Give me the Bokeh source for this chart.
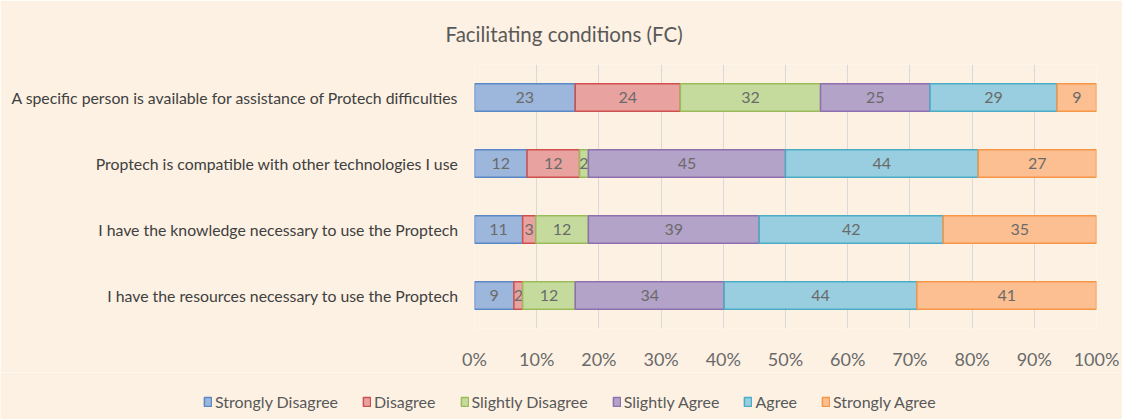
from bokeh.plotting import figure
from bokeh.models import ColumnDataSource, Legend, LegendItem, FixedTicker, Title
from bokeh.embed import file_html
from bokeh.resources import INLINE
from bokeh.core.properties import value

title = "Facilitating conditions (FC)"
statements = [
    "A specific person is available for assistance of Protech difficulties",
    "Proptech is compatible with other technologies I use",
    "I have the knowledge necessary to use the Proptech",
    "I have the resources necessary to use the Proptech",
]
levels = ["Strongly Disagree", "Disagree", "Slightly Disagree", "Slightly Agree", "Agree", "Strongly Agree"]
strongly_disagree = [23, 12, 11, 9]
disagree = [24, 12, 3, 2]
slightly_disagree = [32, 2, 12, 12]
slightly_agree = [25, 45, 39, 34]
agree = [29, 44, 42, 44]
strongly_agree = [9, 27, 35, 41]
tick_values = [0, 0.1, 0.2, 0.3, 0.4, 0.5, 0.6, 0.7, 0.8, 0.9, 1.0]
tick_labels = ["0%", "10%", "20%", "30%", "40%", "50%", "60%", "70%", "80%", "90%", "100%"]

series = [strongly_disagree, disagree, slightly_disagree, slightly_agree, agree, strongly_agree]
fills = ["#9DB6DC", "#E8A2A0", "#C5DB9E", "#B4A3C8", "#99CEE0", "#FBBF92"]
lines = ["#5B87C5", "#D0504F", "#9BBB59", "#8E70B0", "#4BACC6", "#F79646"]

BG = "#FDF1E3"
FONT = "Lato"

p = figure(frame_width=622, frame_height=264, y_range=list(reversed(statements)), x_range=(0, 1),
           output_backend="svg", toolbar_location=None,
           min_border_left=474, min_border_right=26, min_border_top=64, min_border_bottom=42)
p.background_fill_color = BG
p.border_fill_color = BG
p.outline_line_color = None

totals = [sum(s[i] for s in series) for i in range(len(statements))]
left = [0.0] * len(statements)
for name, vals, fc, lc in zip(levels, series, fills, lines):
    frac = [v / t for v, t in zip(vals, totals)]
    right = [l + f for l, f in zip(left, frac)]
    src = ColumnDataSource(dict(y=statements, left=left, right=right,
                                mid=[(l + r) / 2 for l, r in zip(left, right)],
                                lab=[str(v) for v in vals]))
    p.hbar(y="y", left="left", right="right", height=0.42, source=src,
           fill_color=fc, line_color=lc, line_width=1.5)
    p.text(x="mid", y="y", text="lab", source=src, text_align="center", text_baseline="middle",
           text_font=value(FONT), text_font_size="16px", text_color="#6A6A6A")
    left = right

p.xaxis.ticker = FixedTicker(ticks=tick_values)
p.xaxis.major_label_overrides = {v: l for v, l in zip(tick_values, tick_labels)}
p.xaxis.axis_line_color = None
p.xaxis.major_tick_line_color = None
p.xaxis.major_tick_out = 0
p.xaxis.minor_tick_line_color = None
p.xaxis.major_label_text_font = FONT
p.xaxis.major_label_text_font_size = "18px"
p.xaxis.major_label_text_color = "#6A6A6A"
p.xaxis.major_label_standoff = 19

p.yaxis.axis_line_color = None
p.yaxis.major_tick_line_color = None
p.yaxis.major_tick_out = 0
p.yaxis.minor_tick_line_color = None
p.yaxis.major_label_text_font = FONT
p.yaxis.major_label_text_font_size = "15.8px"
p.yaxis.major_label_text_color = "#404040"
p.yaxis.major_label_standoff = 16

p.xgrid.grid_line_color = "#D9D9D9"
p.ygrid.grid_line_color = None

p.title = Title(text=title, align="left", offset=-29, standoff=38, text_font=FONT,
                text_font_size="20.5px", text_font_style="normal", text_color="#595959")

# legend strip under the chart (separate root, so it is not aligned to the chart frame)
lg = figure(width=1122, height=49, x_range=(0, 1), y_range=(0, 1), output_backend="svg",
            toolbar_location=None, min_border=0)
lg.axis.visible = False
lg.grid.visible = False
lg.outline_line_color = None
lg.background_fill_color = BG
lg.border_fill_color = BG
items = []
for name, fc, lc in zip(levels, fills, lines):
    # zero-width proxy bar: only its style is used by the legend
    r = lg.hbar(y=[0], left=[0], right=[0], height=0, fill_color=fc, line_color=lc, line_width=1.5)
    items.append(LegendItem(label=name, renderers=[r]))
legend = Legend(items=items, orientation="horizontal", location=(203, 10),
                background_fill_alpha=0, border_line_color=None, padding=2, margin=0,
                label_text_font=FONT, label_text_font_size="16px", label_text_color="#595959",
                glyph_width=9, glyph_height=11, spacing=24, label_standoff=3)
lg.add_layout(legend, "center")

open("out.html", "w").write(file_html([p, lg], INLINE))
